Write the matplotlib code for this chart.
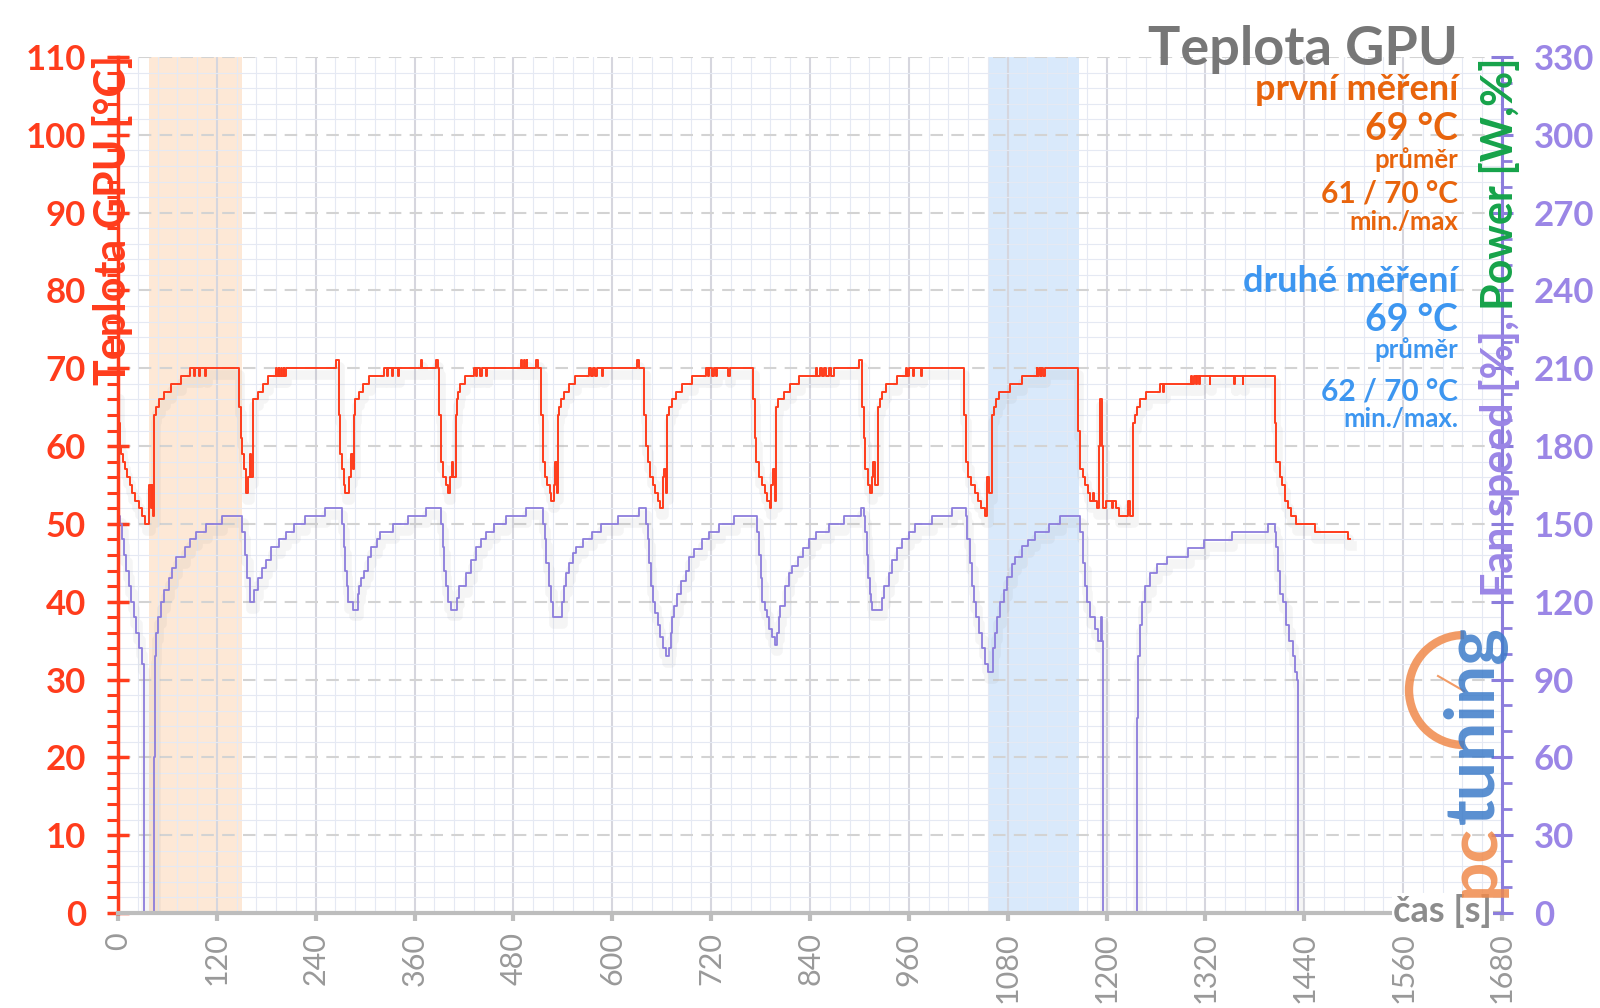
import matplotlib.pyplot as plt
import matplotlib.patheffects as pe
from matplotlib.ticker import MultipleLocator
from matplotlib.patches import Arc

plt.rcParams['font.family'] = ['Lato', 'DejaVu Sans']

# GPU temperature [°C]: time of change [s] -> new value (drawn as steps)
temp_t = [0, 1, 2, 4, 6, 8, 11, 14, 17, 21, 25, 29, 33, 38, 40, 41, 42, 44, 46, 50, 56, 64, 76, 88, 92, 94, 98, 99, 106, 107,
          147, 149, 151, 153, 155, 158, 160, 162, 164, 170, 176, 182, 192, 193, 195, 196, 198, 199, 201, 202, 204, 265,
          268, 270, 272, 274, 276, 280, 283, 285, 287, 288, 292, 297, 305, 323, 326, 328, 332, 334, 340, 341, 368, 369, 386, 388,
          390, 392, 395, 398, 400, 403, 405, 407, 410, 411, 413, 415, 421, 432, 434, 436, 440, 442, 447, 448, 489, 491, 493, 494, 496, 497, 508, 510,
          514, 516, 518, 521, 524, 526, 529, 531, 533, 534, 535, 538, 541, 547, 555, 572, 574, 576, 579, 581, 588, 589, 630, 632,
          639, 641, 643, 646, 650, 652, 655, 658, 661, 663, 665, 667, 669, 673, 677, 685, 697, 714, 716, 718, 721, 723, 726, 727, 741, 743,
          771, 773, 775, 778, 782, 785, 788, 791, 793, 795, 797, 799, 801, 808, 816, 827, 847, 849, 852, 855, 857, 860, 863, 866, 869, 900,
          903, 905, 907, 910, 913, 915, 917, 919, 922, 925, 928, 932, 945, 956, 958, 960, 965, 966, 975, 976,
          1027, 1029, 1032, 1036, 1040, 1044, 1048, 1052, 1055, 1057, 1061, 1063, 1066, 1070, 1083, 1097, 1115, 1116, 1118, 1120, 1121, 1123, 1125,
          1165, 1168, 1171, 1174, 1177, 1180, 1183, 1185, 1188, 1191, 1192, 1194, 1196, 1199, 1206, 1208, 1211, 1215, 1226, 1228,
          1232, 1235, 1237, 1240, 1248, 1265, 1268, 1270, 1302, 1304, 1306, 1308, 1310, 1312, 1314, 1325, 1326, 1355, 1356, 1365, 1366,
          1404, 1406, 1410, 1413, 1416, 1420, 1424, 1430, 1453, 1493, 1496]
temp_c = [67, 63, 60, 59, 58, 57, 56, 55, 54, 53, 52, 51, 50, 55, 52, 55, 51, 64, 65, 66, 67, 68, 69, 70, 69, 70, 69, 70, 69, 70,
          65, 61, 59, 57, 54, 56, 59, 56, 66, 67, 68, 69, 70, 69, 70, 69, 70, 69, 70, 69, 70, 71,
          64, 59, 57, 55, 54, 56, 59, 57, 64, 66, 67, 68, 69, 70, 69, 70, 69, 70, 69, 70, 71, 70, 71, 70,
          64, 58, 56, 55, 54, 56, 58, 56, 64, 66, 67, 68, 69, 70, 69, 70, 69, 70, 69, 70, 71, 70, 71, 70, 71, 70, 71, 70,
          64, 58, 56, 55, 54, 53, 55, 58, 54, 64, 65, 66, 67, 68, 69, 70, 69, 70, 69, 70, 69, 70, 71, 70,
          64, 60, 58, 56, 55, 54, 53, 52, 56, 57, 54, 64, 65, 66, 67, 68, 69, 70, 69, 70, 69, 70, 69, 70, 69, 70,
          66, 61, 58, 56, 55, 54, 53, 52, 55, 57, 53, 65, 66, 67, 68, 69, 70, 69, 70, 69, 70, 69, 70, 69, 70, 71,
          65, 61, 57, 55, 54, 56, 58, 55, 65, 66, 67, 68, 69, 70, 69, 70, 69, 70, 69, 70,
          64, 58, 56, 55, 54, 53, 52, 51, 56, 54, 64, 65, 66, 67, 68, 69, 70, 69, 70, 69, 70, 69, 70,
          62, 57, 56, 55, 54, 53, 54, 53, 52, 60, 66, 60, 52, 53, 52, 53, 52, 51, 53, 51,
          63, 64, 65, 66, 67, 68, 67, 68, 69, 68, 69, 68, 69, 68, 69, 68, 69, 68, 69, 68, 69,
          63, 58, 56, 55, 53, 52, 51, 50, 49, 48, 48]

# fan speed [%]: time of change [s] -> new value (drawn as steps)
fan_t = [0, 3, 5, 7, 10, 13, 16, 19, 22, 26, 29, 31, 32, 44, 45, 46, 48, 52, 56, 62, 66, 71, 81, 87, 95, 107, 126,
         151, 154, 157, 160, 165, 170, 175, 180, 186, 196, 204, 214, 227, 251,
         272, 274, 276, 278, 279, 285, 291, 293, 295, 299, 303, 307, 314, 318, 334, 352, 374,
         392, 394, 396, 398, 400, 404, 411, 414, 423, 429, 435, 441, 447, 457, 471, 495,
         516, 518, 520, 523, 526, 528, 539, 541, 544, 548, 552, 556, 564, 575, 586, 607, 633,
         641, 643, 645, 647, 649, 652, 655, 658, 661, 665, 669, 671, 673, 675, 679, 683, 689, 693, 699, 709, 718, 730, 748,
         776, 778, 780, 782, 785, 788, 790, 794, 797, 800, 802, 804, 810, 814, 818, 825, 831, 839, 847, 863, 881, 902, 905,
         907, 909, 911, 913, 914, 915, 927, 930, 936, 940, 946, 952, 960, 968, 988, 1012,
         1029, 1031, 1034, 1037, 1039, 1042, 1045, 1049, 1053, 1056, 1062, 1064, 1067, 1071, 1075, 1079, 1085, 1089, 1097, 1105, 1113, 1130, 1144,
         1168, 1171, 1174, 1176, 1180, 1186, 1190, 1193, 1195, 1196, 1237, 1238, 1240, 1243, 1247, 1253, 1261, 1273, 1299, 1318, 1352, 1396,
         1404, 1406, 1408, 1411, 1414, 1418, 1422, 1426, 1429, 1431, 1432, 1496]
fan_pct = [51, 50, 48, 46, 44, 42, 40, 38, 36, 34, 32, 31, 0, 20, 33, 36, 38, 40, 41.5, 43, 44.3, 45.8, 47, 48, 49, 50, 51,
           49, 46, 43, 40, 41.5, 43, 44.3, 45.4, 47, 48, 49, 50, 51, 52,
           50, 47, 44, 42, 40, 39, 41, 42, 43, 44, 45.7, 47, 48, 49, 50, 51, 52,
           50, 47, 44, 42, 40, 39, 40.5, 42, 43.7, 45.4, 47, 48, 49, 50, 51, 52,
           50, 48, 45, 42, 40, 38, 40, 42, 43.7, 45, 46.2, 47, 48, 49, 50, 51, 52,
           50, 48, 45, 42, 40, 38.5, 37, 35.5, 34, 33, 34, 36, 38, 39.4, 41, 42.7, 44, 45.7, 46.8, 48, 49, 50, 51,
           49, 46, 43, 40, 39, 38, 36.5, 35.5, 34.5, 36, 38, 39.4, 42, 43.7, 44.6, 45.8, 46.9, 48, 49, 50, 51, 52, 51,
           49, 46, 43, 41, 40, 39, 40.5, 42, 43.7, 45.4, 46.9, 48, 49, 50, 51, 52,
           51, 48, 45, 42, 40, 38, 36, 34, 32, 31, 34, 36, 38, 40, 41.5, 43.2, 44.9, 45.8, 47.1, 47.9, 49, 50, 51,
           49, 45, 42, 40, 38, 36.5, 35, 38, 35, 0, 25, 33, 37, 40, 42, 43.7, 44.9, 45.8, 46.9, 47.9, 49, 50,
           49, 47, 44, 41, 40, 37, 35, 33, 31, 30, 0, 0]

first_run = (38, 150)
second_run = (1057, 1166)

x_ticks = list(range(0, 1681, 120))
temp_ticks = list(range(0, 111, 10))
right_ticks = list(range(0, 331, 30))

RED = '#ff3c1c'
PURPLE = '#8c7ddc'
PURPLE_TXT = '#9b86e6'
GREEN = '#16a34a'
ORANGE = '#e8640c'
BLUE = '#3d96f0'
GREY = '#8c8c8c'


def fpos(x, y):
    # pixel position in the 1600x1008 image -> figure fraction
    return x / 1600, 1 - y / 1008


fig = plt.figure(figsize=(16, 10.08), dpi=100)
ax = fig.add_axes([118 / 1600, 1 - 913 / 1008, (1502 - 118) / 1600, (913 - 57) / 1008])
ax2 = ax.twinx()

ax.axvspan(*first_run, color='#fde8d6', zorder=0.2, lw=0)
ax.axvspan(*second_run, color='#d9e9fb', zorder=0.2, lw=0)

shadow = [pe.SimpleLineShadow(offset=(1, -5), shadow_color='#888888', alpha=0.08, linewidth=7), pe.Normal()]
ax.plot(temp_t, temp_c, drawstyle='steps-post', color=RED, lw=1.4, zorder=3, path_effects=shadow)
ax.plot(fan_t, fan_pct, drawstyle='steps-post', color=PURPLE, lw=1.3, zorder=2, path_effects=shadow)

ax.set_xlim(0, 1680)
ax.set_ylim(0, 110)
ax2.set_ylim(0, 330)

ax.set_xticks(x_ticks)
ax.set_xticklabels([str(v) for v in x_ticks], rotation=90)
ax.xaxis.set_minor_locator(MultipleLocator(24))
ax.set_yticks(temp_ticks)
ax.yaxis.set_minor_locator(MultipleLocator(2))
ax2.set_yticks(right_ticks)
ax2.yaxis.set_minor_locator(MultipleLocator(10))

ax.set_axisbelow(True)
ax.grid(which='minor', color='#e5e9f3', lw=0.8)
ax.grid(which='major', axis='x', color='#d6d6de', lw=1.5)
ax.grid(which='major', axis='y', color='#d3d3d3', lw=1.5, ls=(0, (6, 4)))

for s in ['top', 'right']:
    ax.spines[s].set_visible(False)
ax.spines['left'].set_color(RED)
ax.spines['left'].set_linewidth(2.5)
ax.spines['bottom'].set_color('#bdbdbd')
ax.spines['bottom'].set_linewidth(3)
for s in ['top', 'left', 'bottom']:
    ax2.spines[s].set_visible(False)
ax2.spines['right'].set_color(PURPLE)
ax2.spines['right'].set_linewidth(2.2)

ax.tick_params(axis='y', which='major', direction='inout', length=16, width=2.5, color=RED,
               labelcolor=RED, labelsize=25, pad=15)
ax.tick_params(axis='y', which='minor', direction='out', length=8, width=2.2, color=RED)
ax.tick_params(axis='x', which='major', direction='out', length=6, width=3, color='#bdbdbd',
               labelcolor='#999999', labelsize=22, pad=8)
ax.tick_params(axis='x', which='minor', length=0)
ax2.tick_params(axis='y', which='major', direction='inout', length=16, width=2.2, color=PURPLE,
                labelcolor=PURPLE_TXT, labelsize=25, pad=15)
ax2.tick_params(axis='y', which='minor', direction='out', length=7, width=2, color=PURPLE)
for lab in ax.get_yticklabels() + ax2.get_yticklabels():
    lab.set_fontweight('bold')

# x axis label sitting on the axis line
fig.text(*fpos(1492, 911), 'čas [s]', ha='right', va='center', fontsize=26, fontweight='bold', color=GREY,
         bbox=dict(facecolor='white', edgecolor='none', pad=1))

# title and legend texts
right_x = 1458
fig.text(*fpos(right_x, 65), 'Teplota GPU', ha='right', va='baseline', fontsize=39, fontweight='bold', color='#777777')
notes = [
    ('první měření', 100, 26, ORANGE),
    ('69 °C', 140, 27, ORANGE),
    ('průměr', 168, 18.5, ORANGE),
    ('61 / 70 °C', 203, 21.5, ORANGE),
    ('min./max', 230, 18.5, ORANGE),
    ('druhé měření', 292, 26, BLUE),
    ('69 °C', 331, 27, BLUE),
    ('průměr', 358, 18.5, BLUE),
    ('62 / 70 °C', 401, 21.5, BLUE),
    ('min./max.', 427, 18.5, BLUE),
]
for txt, y, size, col in notes:
    fig.text(*fpos(right_x, y), txt, ha='right', va='baseline', fontsize=size, fontweight='bold', color=col)

# axis titles
fig.text(*fpos(126, 55), 'Teplota GPU [°C]', rotation=90, rotation_mode='anchor', ha='right', va='baseline',
         fontsize=31, fontweight='bold', color=RED)
fig.canvas.draw()
rend = fig.canvas.get_renderer()
power = fig.text(*fpos(1513, 57), 'Power [W,%]', rotation=90, rotation_mode='anchor', ha='right', va='baseline',
                 fontsize=31, fontweight='bold', color=GREEN)
bb = power.get_window_extent(rend)
fig.text(1513 / 1600, bb.y0 / 1008, 'Fan speed [%], ', rotation=90, rotation_mode='anchor', ha='right',
         va='baseline', fontsize=31, fontweight='bold', color=PURPLE_TXT)

# pctuning watermark
pc = fig.text(*fpos(1494, 897), 'pc', rotation=90, rotation_mode='anchor', ha='left', va='baseline',
              fontsize=50, fontweight='bold', color='#f08a4b', alpha=0.85)
bb = pc.get_window_extent(rend)
fig.text(1494 / 1600, bb.y1 / 1008, 'tuning', rotation=90, rotation_mode='anchor', ha='left', va='baseline',
         fontsize=50, fontweight='bold', color='#3d7cc9', alpha=0.85)
gauge = Arc(fpos(1464, 690), 110 / 1600, 110 / 1008, theta1=90, theta2=270, transform=fig.transFigure,
            color='#f08a4b', lw=6, alpha=0.85)
fig.add_artist(gauge)
fig.add_artist(plt.Line2D([1438 / 1600, 1464 / 1600], [1 - 676 / 1008, 1 - 691 / 1008], transform=fig.transFigure,
                          color='#f08a4b', lw=1.5, alpha=0.85))

fig.savefig('out.png', dpi=100)
